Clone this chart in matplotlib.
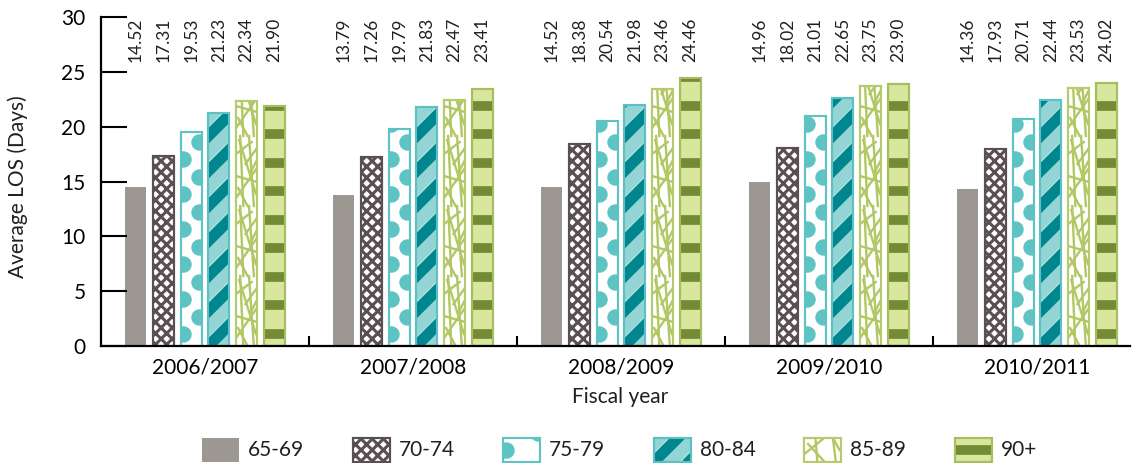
import numpy as np
import matplotlib.pyplot as plt
from matplotlib.patches import Rectangle
from matplotlib import transforms

plt.rcParams['font.family'] = ['Lato', 'DejaVu Sans']
plt.rcParams['hatch.linewidth'] = 2.2
plt.rcParams['text.color'] = '#231f20'

years = ['2006/2007', '2007/2008', '2008/2009', '2009/2010', '2010/2011']
age_groups = ['65-69', '70-74', '75-79', '80-84', '85-89', '90+']

age_65_69 = [14.52, 13.79, 14.52, 14.96, 14.36]
age_70_74 = [17.31, 17.26, 18.38, 18.02, 17.93]
age_75_79 = [19.53, 19.79, 20.54, 21.01, 20.71]
age_80_84 = [21.23, 21.83, 21.98, 22.65, 22.44]
age_85_89 = [22.34, 22.47, 23.46, 23.75, 23.53]
age_90_plus = [21.90, 23.41, 24.46, 23.90, 24.02]
series = [age_65_69, age_70_74, age_75_79, age_80_84, age_85_89, age_90_plus]

# face, edge, fill style for each age group
styles = [
    dict(face='#9c9891', edge='none', kind='solid'),
    dict(face='white', edge='#5a5053', kind='cross'),
    dict(face='white', edge='#5ec4c3', kind='dots'),
    dict(face='#93d5d4', edge='#5fc0c4', kind='stripes'),
    dict(face='white', edge='#b7cb6b', kind='twigs'),
    dict(face='#d9e69d', edge='#a8bd5f', kind='bands'),
]

# twig segments: (x frac, y px, x frac, y px) within a 70 px tall tile
twig_tile = [
    (0.0, 8, 1.0, 38),
    (0.15, 66, 0.95, 12),
    (0.35, 0, 0.2, 70),
    (0.0, 30, 1.0, 24),
    (0.62, 70, 0.85, 0),
    (0.0, 52, 0.75, 64),
    (0.45, 42, 1.0, 58),
    (0.1, 18, 0.55, 0),
    (0.7, 34, 1.0, 46),
]


def px_scale(ax):
    o = ax.transData.transform((0, 0))
    p = ax.transData.transform((1, 1))
    return p[0] - o[0], p[1] - o[1]


def decorate(ax, kind, rect):
    x0, y0 = rect.get_x(), rect.get_y()
    w, h = rect.get_width(), rect.get_height()
    sx, sy = px_scale(ax)
    wpx, hpx = w * sx, h * sy
    arts = []
    if kind == 'dots':
        xs, ys = [], []
        yy, k = 12.0, 0
        while yy < hpx + 10:
            xs.append(x0 + 2.5 / sx if k % 2 == 0 else x0 + w - 2.5 / sx)
            ys.append(y0 + yy / sy)
            yy += 17.5
            k += 1
        arts.append(ax.scatter(xs, ys, s=140, color='#5ec4c3', linewidths=0, zorder=2))
    elif kind == 'stripes':
        period = 35.0
        for n in range(-2, int(hpx / period) + 3):
            ys = n * period
            xx = [x0 - w, x0 + 2 * w]
            yv = [y0 + (ys - wpx) / sy, y0 + (ys + 2 * wpx) / sy]
            arts += ax.plot(xx, yv, color='#00868f', lw=8, solid_capstyle='butt', zorder=2)
            arts += ax.plot(xx, [v + 9 / sy for v in yv], color='white', lw=0.4, alpha=0.5, zorder=2)
    elif kind == 'bands':
        yy = 12.5
        while yy < hpx + 10:
            arts += ax.plot([x0, x0 + w], [y0 + yy / sy] * 2, color='#748b35', lw=7,
                            solid_capstyle='butt', zorder=2)
            yy += 28.5
    elif kind == 'twigs':
        for k in range(int(hpx / 70) + 1):
            for a, b, c, d in twig_tile:
                arts += ax.plot([x0 + a * w, x0 + c * w],
                                [y0 + (b + 70 * k) / sy, y0 + (d + 70 * k) / sy],
                                color='#b3c765', lw=1.7, zorder=2)
    for a in arts:
        a.set_clip_path(rect)


W, H = 1132, 463
fig = plt.figure(figsize=(W / 100, H / 100), dpi=100)
ax = fig.add_axes([101 / W, (H - 346) / H, 1029 / W, 329 / H])
ax.set_xlim(-0.5, 4.447)
ax.set_ylim(0, 30)

x = np.arange(len(years))
bar_w = 0.101
step = 0.133
for i, (vals, st) in enumerate(zip(series, styles)):
    xpos = x + (i - 2.5) * step
    hatch = 'xxx' if st['kind'] == 'cross' else None
    bars = ax.bar(xpos, vals, bar_w, color=st['face'], edgecolor=st['edge'],
                  linewidth=1.5, hatch=hatch, zorder=1)
    for rect in bars:
        decorate(ax, st['kind'], rect)
    if st['edge'] != 'none':
        ax.bar(xpos, vals, bar_w, fill=False, edgecolor=st['edge'], linewidth=1.5, zorder=3)
    top = transforms.blended_transform_factory(ax.transData, ax.transAxes)
    for xp, v in zip(xpos, vals):
        ax.text(xp, 0.997, f'{v:.2f}', transform=top, rotation=90, ha='center',
                va='top', fontsize=12.5)

for s in ['top', 'right']:
    ax.spines[s].set_visible(False)
for s in ['left', 'bottom']:
    ax.spines[s].set_linewidth(1.6)
    ax.spines[s].set_zorder(4)

ax.set_yticks(range(0, 31, 5))
ax.tick_params(axis='y', direction='in', length=18.5, width=1.5, pad=11, labelsize=15)
ax.set_xticks(x)
ax.set_xticklabels(years)
ax.tick_params(axis='x', which='major', length=0, pad=8, labelsize=15)
ax.set_xticks(np.arange(0.5, 4.0, 1.0), minor=True)
ax.tick_params(axis='x', which='minor', direction='in', length=7, width=1.5)

fig.text(18 / W, 1 - 187 / H, 'Average LOS (Days)', rotation=90, ha='center',
         va='center', fontsize=15)
fig.text(620 / W, 1 - 397 / H, 'Fiscal year', ha='center', va='center', fontsize=15)

# legend row drawn in figure pixel space
lax = fig.add_axes([0, 0, 1, 1], zorder=-1)
lax.set_xlim(0, W)
lax.set_ylim(0, H)
lax.axis('off')
for i, (name, st) in enumerate(zip(age_groups, styles)):
    lx = 202 + i * 150.6
    sw = Rectangle((lx, H - 462), 37, 24, facecolor=st['face'],
                   edgecolor=st['edge'], linewidth=1.5,
                   hatch='xxx' if st['kind'] == 'cross' else None, zorder=1)
    lax.add_patch(sw)
    decorate(lax, st['kind'], sw)
    if st['edge'] != 'none':
        lax.add_patch(Rectangle((lx, H - 462), 37, 24, fill=False,
                                edgecolor=st['edge'], linewidth=1.5, zorder=3))
    lax.text(lx + 46, H - 450, name, ha='left', va='center', fontsize=15)

fig.savefig('out.png', dpi=100)
